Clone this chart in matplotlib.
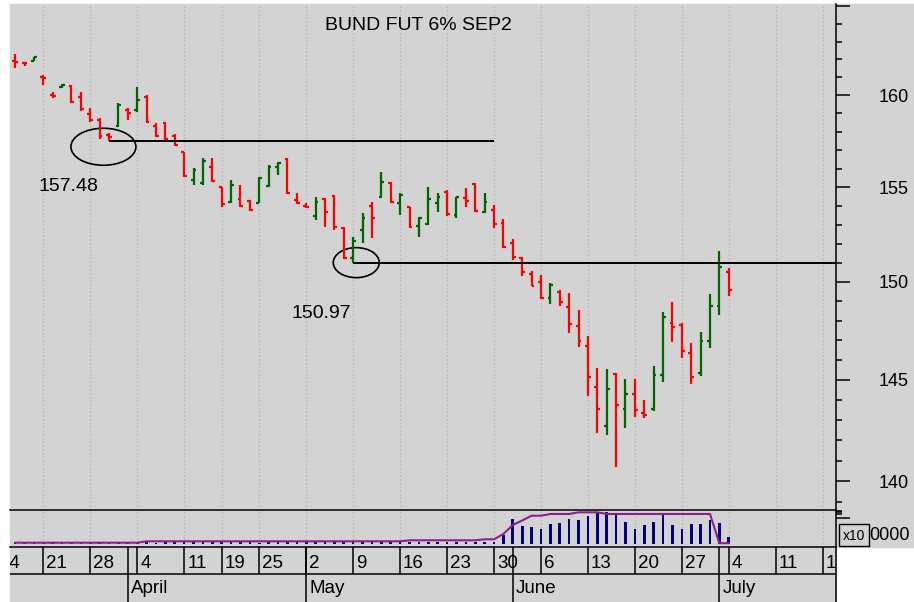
import matplotlib
matplotlib.use('Agg')
import matplotlib.pyplot as plt
import matplotlib.patches as mpatches
import matplotlib.transforms as mtransforms
import numpy as np
import pandas as pd

# Eurex trading calendar around the chart (Good Friday / Easter Monday closed)
holidays = ['2022-04-15', '2022-04-18']
days = pd.bdate_range('2022-03-14', '2022-07-22')
days = days[~days.isin(pd.to_datetime(holidays))]
first_bar = '2022-03-16'

opens = [161.94, 161.80, 161.93, 161.02, 160.04, 160.48, 160.53, 159.93, 158.97, 158.64,
         157.82, 158.31, 159.19, 159.19, 159.92, 158.31, 158.46, 157.76, 156.88, 155.38,
         155.20, 156.10, 154.99, 154.20, 154.36, 154.27, 154.16, 155.08, 156.10, 156.51,
         154.31, 154.01, 153.47, 154.34, 154.52, 152.80, 151.22, 152.71, 153.99, 154.45,
         155.24, 154.13, 153.91, 152.92, 153.03, 154.13, 154.75, 153.50, 154.39, 155.15,
         153.65, 153.77, 153.08, 152.02, 151.26, 150.43, 150.00, 149.14, 149.48, 148.68,
         147.74, 146.70, 144.65, 142.71, 145.29, 143.55, 144.31, 143.34, 143.55, 145.24,
         147.89, 147.77, 146.36, 145.32, 146.96, 148.77, 150.52]
highs = [162.28, 161.87, 162.15, 161.16, 160.20, 160.65, 160.57, 160.20, 159.28, 158.73,
         157.93, 159.56, 159.28, 160.47, 160.02, 158.46, 158.55, 157.85, 156.91, 156.01,
         156.55, 156.55, 155.02, 155.38, 155.11, 154.31, 155.56, 156.19, 156.37, 156.57,
         154.66, 154.13, 154.48, 154.40, 154.57, 152.85, 152.32, 153.60, 154.22, 155.83,
         155.29, 154.66, 153.95, 153.42, 155.02, 154.66, 154.84, 154.48, 154.93, 155.20,
         154.66, 154.04, 153.29, 152.22, 151.32, 150.56, 150.35, 149.92, 149.57, 149.40,
         148.54, 147.23, 145.61, 145.53, 145.35, 145.02, 145.02, 143.98, 145.69, 148.45,
         148.97, 147.86, 146.84, 147.43, 149.35, 151.62, 150.73]
lows = [161.54, 161.65, 161.91, 160.57, 159.88, 160.42, 159.56, 159.11, 158.55, 157.60,
        157.48, 158.27, 158.64, 159.10, 158.46, 157.72, 157.54, 157.22, 155.56, 155.11,
        155.11, 155.29, 153.95, 154.13, 153.95, 153.73, 154.13, 155.02, 155.65, 154.63,
        154.09, 153.86, 153.24, 152.88, 152.71, 151.18, 150.97, 152.01, 152.27, 154.40,
        154.13, 153.50, 152.80, 152.32, 152.97, 153.68, 153.45, 153.33, 153.95, 153.68,
        153.60, 152.80, 151.75, 151.13, 150.30, 149.78, 149.11, 148.84, 148.75, 147.35,
        146.67, 144.18, 142.34, 142.25, 140.70, 142.58, 143.16, 143.11, 143.44, 144.87,
        146.92, 146.08, 144.78, 145.19, 146.59, 148.29, 149.27]
closes = [161.88, 161.78, 162.12, 160.96, 159.99, 160.57, 159.64, 159.22, 158.64, 157.76,
          157.73, 159.47, 159.02, 159.74, 158.55, 157.76, 157.61, 157.27, 155.60, 155.92,
          156.42, 155.34, 154.09, 155.11, 154.00, 153.77, 155.47, 156.10, 156.32, 154.68,
          154.13, 153.93, 154.19, 153.65, 152.85, 151.22, 152.14, 153.36, 153.35, 155.26,
          154.19, 154.57, 152.88, 153.36, 154.35, 154.48, 153.56, 154.45, 154.28, 153.72,
          154.19, 153.03, 151.83, 151.29, 150.52, 149.81, 149.14, 149.83, 148.97, 147.83,
          146.96, 145.15, 143.55, 144.56, 143.72, 144.31, 143.49, 143.26, 145.24, 148.17,
          147.66, 146.45, 145.15, 146.96, 148.77, 150.78, 149.57]

# volume and open interest, thousand contracts
volume = [30, 25, 20, 35, 30, 25, 40, 30, 35, 30,
          35, 40, 30, 35, 30, 25, 35, 30, 40, 35,
          30, 35, 40, 30, 35, 30, 25, 35, 40, 30,
          35, 30, 40, 35, 30, 35, 40, 30, 35, 40,
          35, 30, 40, 35, 30, 40, 35, 45, 40, 45,
          50, 45,
          212, 625, 438, 412, 375, 500, 525, 625, 588, 688,
          775, 800, 712, 550, 375, 462, 550, 738, 462, 375,
          500, 500, 588, 525, 175]
open_int = ([20] * 14 + [55] * 28 + [80] * 8 + [105] * 2 +
            [238, 462, 575, 695, 695, 738, 738, 738, 780, 780, 780] +
            [738] * 12 + [8, 8])

support_1 = 157.48
support_2 = 150.97

BG = '#d3d3d3'
RED = '#ff0000'
GREEN = '#006400'
plt.rcParams['font.family'] = ['Liberation Sans', 'DejaVu Sans']

W, H = 914, 602


def box(x0, y0, x1, y1):
    return [x0 / W, 1 - y1 / H, (x1 - x0) / W, (y1 - y0) / H]


fig = plt.figure(figsize=(W / 100, H / 100), dpi=100)
fig.patch.set_facecolor('white')
fig.patches.append(mpatches.Rectangle((10 / W, 1 - 547 / H), 904 / W, 543.5 / H,
                                      transform=fig.transFigure, color=BG, zorder=-10))
fig.patches.append(mpatches.Rectangle((10 / W, 0), 826 / W, 55 / H,
                                      transform=fig.transFigure, color=BG, zorder=-10))

start = days.get_loc(pd.Timestamp(first_bar))
xs = np.arange(start, start + len(opens))
xlim = (1.454, 89.42)

pos = pd.Series(np.arange(len(days)), index=days)
week_first = pos.groupby(days.isocalendar().week.values).first()
month_first = pos.groupby(days.month).first()
week_x = week_first.values
month_x = month_first.values[1:]

# ---- price panel
ax = fig.add_axes(box(10, 3.5, 836, 510))
ax.set_facecolor('none')
ax.set_yscale('log')
ax.set_ylim(138.61, 165.17)
ax.set_xlim(*xlim)
for s in ['top', 'left', 'bottom']:
    ax.spines[s].set_visible(False)
ax.spines['right'].set_linewidth(1.1)
ax.set_xticks([])
ax.yaxis.tick_right()
ax.set_yticks([140, 145, 150, 155, 160, 165], labels=['140', '145', '150', '155', '160', ''])
ax.set_yticks([p for p in range(139, 166) if p % 5], minor=True)
ax.yaxis.set_minor_formatter(plt.NullFormatter())
ax.tick_params(axis='y', which='major', length=10, width=1.1, pad=21, labelsize=13)
ax.tick_params(axis='y', which='minor', length=4.5, width=1.1)
ax.vlines(week_x, 0, 1, transform=ax.get_xaxis_transform(), color='#b0b0b0',
          lw=0.9, ls=(0, (1, 2)), zorder=0)

colors = [RED if c < o else GREEN for o, c in zip(opens, closes)]
ax.vlines(xs, lows, highs, colors=colors, lw=1.6)
ax.hlines(opens, xs - 0.3, xs, colors=colors, lw=1.6)
ax.hlines(closes, xs, xs + 0.3, colors=colors, lw=1.6)

i1 = xs[lows.index(support_1)]
i2 = xs[lows.index(support_2)]
ax.hlines(support_1, i1, 53, color='black', lw=1.4)
ax.hlines(support_2, i2, xlim[1], color='black', lw=1.4)


def ring(xc, pc, w, h):
    tr = fig.dpi_scale_trans + mtransforms.ScaledTranslation(xc, pc, ax.transData)
    ax.add_patch(mpatches.Ellipse((0, 0), w, h, transform=tr, fill=False,
                                  ec='black', lw=1.2, clip_on=False))


ring(i1 - 0.6, 157.18, 0.65, 0.37)
ring(i2 + 0.33, 151.0, 0.46, 0.30)
ax.text(7.63, 155.05, '157.48', ha='center', va='center', fontsize=14)
ax.text(34.57, 148.39, '150.97', ha='center', va='center', fontsize=14)
fig.text(418 / W, 1 - 26 / H, 'BUND FUT 6% SEP2', ha='center', va='center', fontsize=14)

# ---- volume / open interest panel
axv = fig.add_axes(box(10, 510, 836, 547))
axv.set_facecolor('none')
axv.set_xlim(*xlim)
axv.set_ylim(-87.5, 837.5)
for s in ['left', 'bottom']:
    axv.spines[s].set_visible(False)
axv.spines['top'].set_linewidth(1.1)
axv.spines['right'].set_linewidth(1.1)
axv.set_xticks([])
axv.yaxis.tick_right()
axv.set_yticks([630], labels=[''])
axv.set_yticks([740, 790, 820], minor=True)
axv.tick_params(axis='y', which='major', length=10, width=1.1)
axv.tick_params(axis='y', which='minor', length=4.5, width=1.1)
axv.vlines(week_x, 0, 1, transform=axv.get_xaxis_transform(), color='#b0b0b0',
           lw=0.9, ls=(0, (1, 2)), zorder=0)
axv.bar(xs, volume, width=0.28, color='#000080')
axv.plot(xs, open_int, color='#8e1e8e', lw=1.5)

fig.patches.append(mpatches.Rectangle((839 / W, 1 - 546 / H), 30 / W, 22 / H,
                                      transform=fig.transFigure, fill=False,
                                      ec='black', lw=1.0))
fig.text(854 / W, 1 - 536 / H, 'x10', ha='center', va='center', fontsize=10)
fig.text(869 / W, 1 - 535 / H, '0000', ha='left', va='center', fontsize=13)

# ---- date rows
axd = fig.add_axes(box(10, 547, 836, 602))
axd.set_facecolor('none')
axd.set_xlim(*xlim)
axd.set_ylim(0, 1)
axd.set_xticks([])
axd.set_yticks([])
for s in ['left', 'bottom']:
    axd.spines[s].set_visible(False)
axd.spines['top'].set_linewidth(1.1)
axd.spines['right'].set_linewidth(1.1)
mid = 28 / 55
axd.axhline(mid, color='black', lw=1.1)
axd.vlines(week_x, mid, 1, color='black', lw=1.1)
axd.vlines(month_x, 0, 1, color='black', lw=1.1)
for x in week_x:
    axd.text(x + 0.32, 0.62, str(days[x].day), ha='left', va='baseline',
             fontsize=13.5, clip_on=True)
for x in month_x:
    axd.text(x + 0.32, 0.165, days[x].strftime('%B'), ha='left', va='baseline',
             fontsize=13.5, clip_on=True)

plt.savefig('out.png', dpi=100)
